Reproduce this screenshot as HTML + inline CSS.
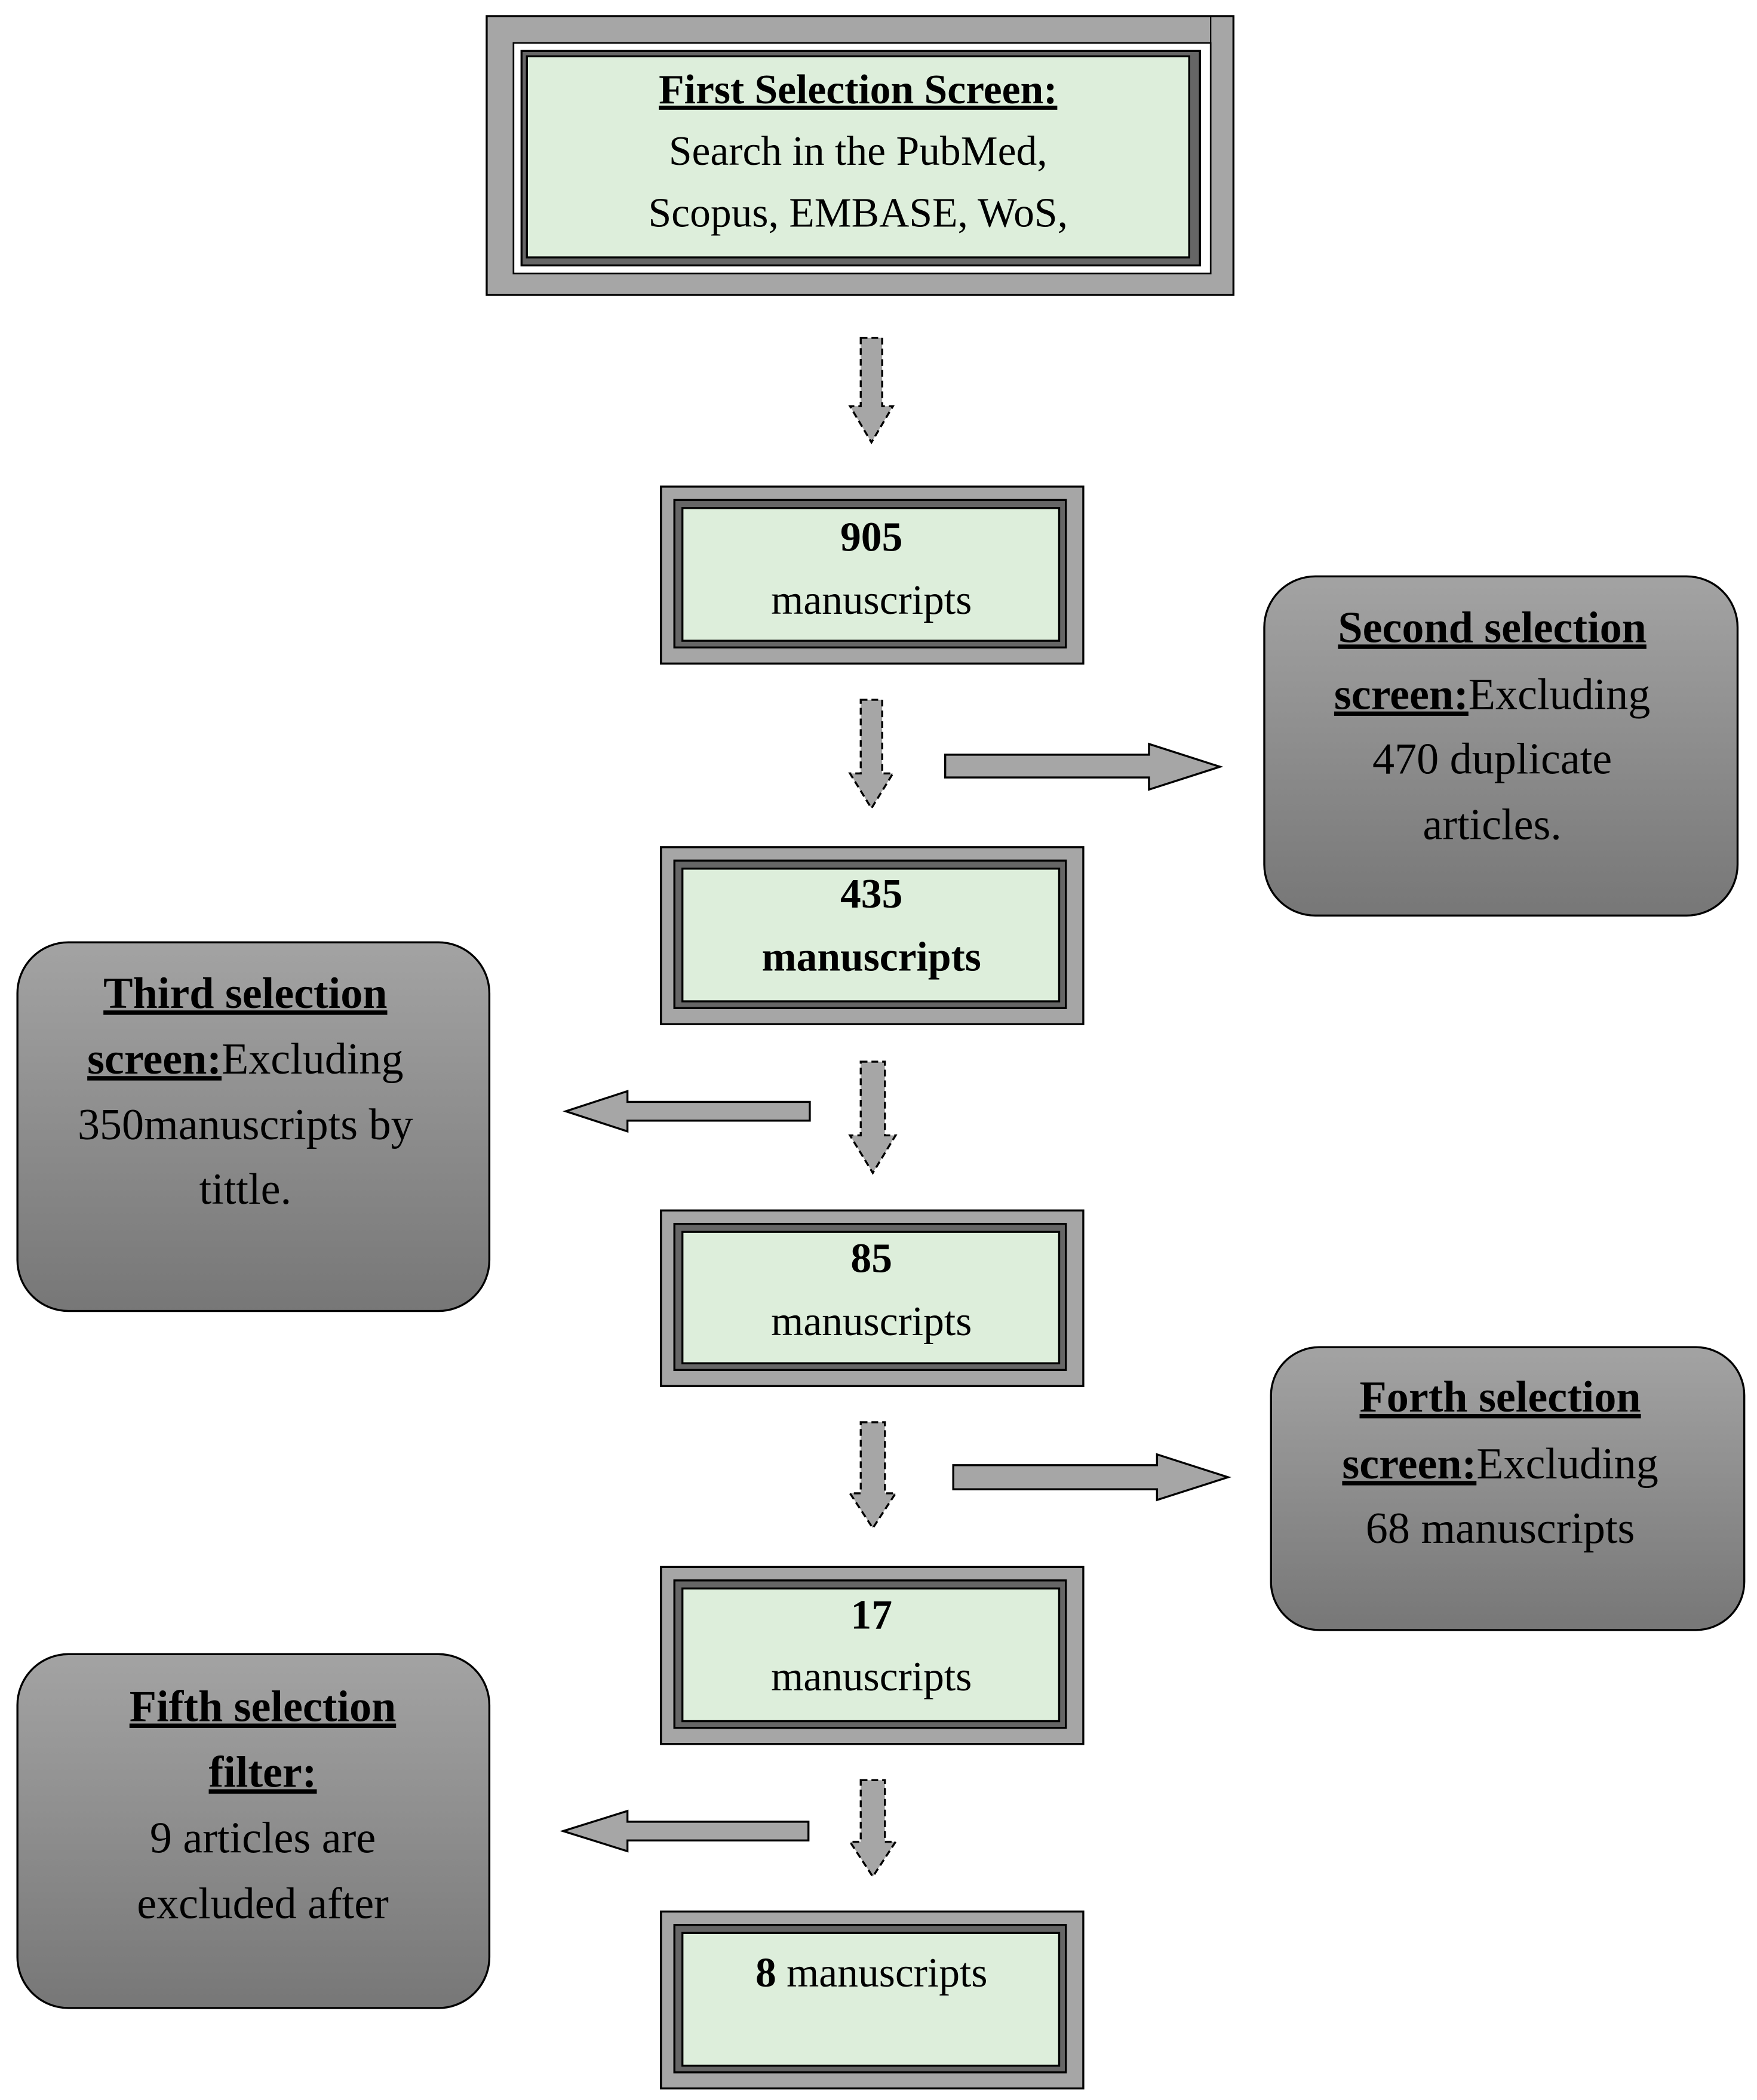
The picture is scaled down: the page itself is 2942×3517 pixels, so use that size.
<!DOCTYPE html>
<html><head><meta charset="utf-8"><style>html,body{margin:0;padding:0;background:#fff}svg{display:block}</style></head><body>
<svg width="2942" height="3517" viewBox="0 0 1310.5 1566.6" xmlns="http://www.w3.org/2000/svg" font-family="Liberation Serif, serif" font-size="31" text-anchor="middle">
<defs>
<linearGradient id="g" x1="0" y1="0" x2="0" y2="1"><stop offset="0" stop-color="#a3a3a3"/><stop offset="1" stop-color="#777"/></linearGradient>
</defs>
<!-- Top box -->
<rect x="363" y="12" width="557" height="208" fill="#a6a6a6" stroke="#000" stroke-width="1.5"/>
<line x1="903" y1="12" x2="903" y2="36" stroke="#000" stroke-width="1"/>
<rect x="383" y="32" width="520" height="172" fill="#fff" stroke="#000" stroke-width="1.2"/>
<rect x="389" y="38" width="506" height="160" fill="#666" stroke="#000" stroke-width="1.5"/>
<rect x="393" y="42" width="494" height="150" fill="#ddeedb" stroke="#000" stroke-width="1.5"/>
<text x="640" y="77" font-weight="bold" text-decoration="underline">First Selection Screen:</text>
<text x="640" y="123">Search in the PubMed,</text>
<text x="640" y="169">Scopus, EMBASE, WoS,</text>

<!-- green boxes -->
<g id="boxes">
<rect x="493" y="363" width="315" height="132" fill="#a6a6a6" stroke="#000" stroke-width="1.5"/>
<rect x="503" y="373" width="292" height="110" fill="#666" stroke="#000" stroke-width="1.5"/>
<rect x="509" y="379" width="281" height="99" fill="#ddeedb" stroke="#000" stroke-width="1.5"/>
<rect x="493" y="632" width="315" height="132" fill="#a6a6a6" stroke="#000" stroke-width="1.5"/>
<rect x="503" y="642" width="292" height="110" fill="#666" stroke="#000" stroke-width="1.5"/>
<rect x="509" y="648" width="281" height="99" fill="#ddeedb" stroke="#000" stroke-width="1.5"/>
<rect x="493" y="903" width="315" height="131" fill="#a6a6a6" stroke="#000" stroke-width="1.5"/>
<rect x="503" y="913" width="292" height="109" fill="#666" stroke="#000" stroke-width="1.5"/>
<rect x="509" y="919" width="281" height="98" fill="#ddeedb" stroke="#000" stroke-width="1.5"/>
<rect x="493" y="1169" width="315" height="132" fill="#a6a6a6" stroke="#000" stroke-width="1.5"/>
<rect x="503" y="1179" width="292" height="110" fill="#666" stroke="#000" stroke-width="1.5"/>
<rect x="509" y="1185" width="281" height="99" fill="#ddeedb" stroke="#000" stroke-width="1.5"/>
<rect x="493" y="1426" width="315" height="132" fill="#a6a6a6" stroke="#000" stroke-width="1.5"/>
<rect x="503" y="1436" width="292" height="110" fill="#666" stroke="#000" stroke-width="1.5"/>
<rect x="509" y="1442" width="281" height="99" fill="#ddeedb" stroke="#000" stroke-width="1.5"/>
</g>
<text x="650" y="411" font-weight="bold">905</text>
<text x="650" y="458">manuscripts</text>
<text x="650" y="677" font-weight="bold">435</text>
<text x="650" y="724" font-weight="bold">manuscripts</text>
<text x="650" y="949" font-weight="bold">85</text>
<text x="650" y="996">manuscripts</text>
<text x="650" y="1215" font-weight="bold">17</text>
<text x="650" y="1261">manuscripts</text>
<text x="650" y="1482"><tspan font-weight="bold">8</tspan> manuscripts</text>

<!-- dashed down arrows -->
<g fill="#a6a6a6" stroke="#000" stroke-width="1.5" stroke-dasharray="5,3">
<path d="M642 252 H658 V303 H666 L650 330 L634 303 H642 Z"/>
<path d="M642 522 H658 V577 H666 L650 603 L634 577 H642 Z"/>
<path d="M642 792 H660 V847 H668 L651 875 L634 847 H642 Z"/>
<path d="M642 1061 H660 V1114 H668 L651 1140 L634 1114 H642 Z"/>
<path d="M642 1328 H660 V1374 H668 L651 1400 L634 1374 H642 Z"/>
</g>

<!-- horizontal arrows -->
<g fill="#a6a6a6" stroke="#000" stroke-width="1.5">
<path d="M705 563 H857 V555 L910 572 L857 589 V580 H705 Z"/>
<path d="M604 822 H468 V814 L422 829 L468 844 V836 H604 Z"/>
<path d="M711 1093 H863 V1085 L916 1102 L863 1119 V1111 H711 Z"/>
<path d="M603 1359 H468 V1351 L420 1366 L468 1381 V1373 H603 Z"/>
</g>

<!-- gray rounded boxes -->
<g fill="url(#g)" stroke="#000" stroke-width="1.5">
<rect x="943" y="430" width="353" height="253" rx="38"/>
<rect x="13" y="703" width="352" height="275" rx="38"/>
<rect x="948" y="1005" width="353" height="211" rx="36"/>
<rect x="13" y="1234" width="352" height="264" rx="38"/>
</g>
<g font-size="33">
<text x="1113" y="479" font-weight="bold" text-decoration="underline">Second selection</text>
<text x="1113" y="529"><tspan font-weight="bold" text-decoration="underline">screen:</tspan>Excluding</text>
<text x="1113" y="577">470 duplicate</text>
<text x="1113" y="626">articles.</text>
<text x="183" y="752" font-weight="bold" text-decoration="underline">Third selection</text>
<text x="183" y="801"><tspan font-weight="bold" text-decoration="underline">screen:</tspan>Excluding</text>
<text x="183" y="850">350manuscripts by</text>
<text x="183" y="898">tittle.</text>
<text x="1119" y="1053" font-weight="bold" text-decoration="underline">Forth selection</text>
<text x="1119" y="1103"><tspan font-weight="bold" text-decoration="underline">screen:</tspan>Excluding</text>
<text x="1119" y="1151">68 manuscripts</text>
<text x="196" y="1284" font-weight="bold" text-decoration="underline">Fifth selection</text>
<text x="196" y="1333" font-weight="bold" text-decoration="underline">filter:</text>
<text x="196" y="1382">9 articles are</text>
<text x="196" y="1431">excluded after</text>
</g>
</svg>
</body></html>
